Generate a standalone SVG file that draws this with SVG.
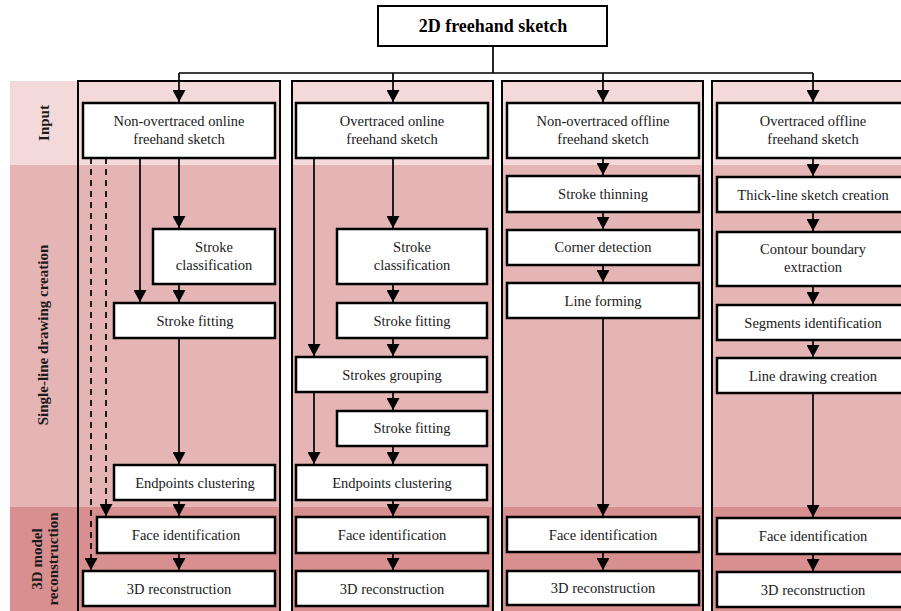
<svg xmlns="http://www.w3.org/2000/svg" width="901" height="611" viewBox="0 0 901 611">
<defs>
<linearGradient id="bands" x1="0" y1="81" x2="0" y2="611" gradientUnits="userSpaceOnUse">
<stop offset="0" stop-color="#f3d9da"/>
<stop offset="0.1585" stop-color="#f3d9da"/>
<stop offset="0.1585" stop-color="#e5b4b5"/>
<stop offset="0.8038" stop-color="#e5b4b5"/>
<stop offset="0.8038" stop-color="#d88f90"/>
<stop offset="1" stop-color="#d88f90"/>
</linearGradient>
<marker id="ah" markerUnits="userSpaceOnUse" markerWidth="13" markerHeight="13" refX="12" refY="6.5" orient="auto" viewBox="0 0 12 13">
<path d="M0,0 L12,6.5 L0,13 z" fill="#000"/>
</marker>
<style>
.col{fill:url(#bands);stroke:#000;stroke-width:2}
.lab{fill:url(#bands)}
.box{fill:#fff;stroke:#000;stroke-width:2.5}
.t{font-family:"Liberation Serif","Times New Roman",serif;font-size:14.5px;fill:#1a1a1a;text-anchor:middle}
.lt{font-family:"Liberation Serif","Times New Roman",serif;font-size:15px;font-weight:bold;fill:#1a1a1a;text-anchor:middle}
.title{font-family:"Liberation Serif","Times New Roman",serif;font-size:18px;font-weight:bold;fill:#000;text-anchor:middle}
.c{fill:none;stroke:#000;stroke-width:1.7}
.a{marker-end:url(#ah)}
.d{stroke-dasharray:6 5}
</style>
</defs>
<rect width="901" height="611" fill="#fff"/>
<g id="lanes">
<rect class="lab" x="10" y="81" width="68" height="530"/>
<rect class="col" x="78" y="81" width="202" height="535"/>
<rect class="col" x="292" y="81" width="201" height="535"/>
<rect class="col" x="502" y="81" width="201" height="535"/>
<rect class="col" x="712" y="81" width="202" height="535"/>
<text class="lt" transform="translate(44,123) rotate(-90)" y="5">Input</text>
<text class="lt" transform="translate(43,335) rotate(-90)" y="5">Single-line drawing creation</text>
<text class="lt" transform="translate(37,559) rotate(-90)" y="5">3D model</text>
<text class="lt" transform="translate(53,559) rotate(-90)" y="5">reconstruction</text>
</g>
<g id="connectors">
<path class="c" d="M493,46 V73 M179,73 H813"/>
<path class="c a" d="M179,73 V102"/>
<path class="c a" d="M393,73 V102"/>
<path class="c a" d="M603,73 V102"/>
<path class="c a" d="M813,73 V102"/>
<path class="c a" d="M179,158 V228"/>
<path class="c a" d="M179,284 V302"/>
<path class="c a" d="M179,338 V464"/>
<path class="c a" d="M179,500 V516"/>
<path class="c a" d="M179,553 V570"/>
<path class="c a" d="M140,158 V302"/>
<path class="c a d" d="M106,158 V516"/>
<path class="c a d" d="M91,158 V570"/>
<path class="c a" d="M393,158 V228"/>
<path class="c a" d="M393,284 V302"/>
<path class="c a" d="M393,338 V356"/>
<path class="c a" d="M393,392 V410"/>
<path class="c a" d="M393,446 V464"/>
<path class="c a" d="M393,500 V516"/>
<path class="c a" d="M393,553 V570"/>
<path class="c a" d="M314,158 V356"/>
<path class="c a" d="M314,392 V464"/>
<path class="c a" d="M603,158 V175"/>
<path class="c a" d="M603,212 V229"/>
<path class="c a" d="M603,265 V282"/>
<path class="c a" d="M603,318 V516"/>
<path class="c a" d="M603,552 V570"/>
<path class="c a" d="M813,158 V176"/>
<path class="c a" d="M813,212 V231"/>
<path class="c a" d="M813,286 V304"/>
<path class="c a" d="M813,340 V357"/>
<path class="c a" d="M813,393 V517"/>
<path class="c a" d="M813,554 V571"/>
</g>
<g id="sketch2d"><rect x="378" y="6" width="229" height="40" fill="#fff" stroke="#000" stroke-width="2"/><text class="title" x="493" y="32">2D freehand sketch</text></g>
<g id="in1"><rect class="box" x="83" y="103" width="192" height="55"/><text class="t" x="179" y="126">Non-overtraced online</text><text class="t" x="179" y="144">freehand sketch</text></g>
<g id="sc1"><rect class="box" x="153" y="229" width="122" height="55"/><text class="t" x="214" y="252">Stroke</text><text class="t" x="214" y="270">classification</text></g>
<g id="sf1"><rect class="box" x="114" y="303" width="161" height="35"/><text class="t" x="195" y="326">Stroke fitting</text></g>
<g id="ec1"><rect class="box" x="114" y="465" width="161" height="35"/><text class="t" x="195" y="488">Endpoints clustering</text></g>
<g id="fi1"><rect class="box" x="97" y="517" width="178" height="36"/><text class="t" x="186" y="540">Face identification</text></g>
<g id="re1"><rect class="box" x="83" y="571" width="192" height="35"/><text class="t" x="179" y="594">3D reconstruction</text></g>
<g id="in2"><rect class="box" x="296" y="103" width="192" height="55"/><text class="t" x="392" y="126">Overtraced online</text><text class="t" x="392" y="144">freehand sketch</text></g>
<g id="sc2"><rect class="box" x="337" y="229" width="150" height="55"/><text class="t" x="412" y="252">Stroke</text><text class="t" x="412" y="270">classification</text></g>
<g id="sf2a"><rect class="box" x="337" y="303" width="150" height="35"/><text class="t" x="412" y="326">Stroke fitting</text></g>
<g id="sg2"><rect class="box" x="296" y="357" width="191" height="35"/><text class="t" x="392" y="380">Strokes grouping</text></g>
<g id="sf2b"><rect class="box" x="337" y="411" width="150" height="35"/><text class="t" x="412" y="433">Stroke fitting</text></g>
<g id="ec2"><rect class="box" x="296" y="465" width="191" height="35"/><text class="t" x="392" y="488">Endpoints clustering</text></g>
<g id="fi2"><rect class="box" x="296" y="517" width="192" height="36"/><text class="t" x="392" y="540">Face identification</text></g>
<g id="re2"><rect class="box" x="296" y="571" width="192" height="35"/><text class="t" x="392" y="594">3D reconstruction</text></g>
<g id="in3"><rect class="box" x="507" y="103" width="192" height="55"/><text class="t" x="603" y="126">Non-overtraced offline</text><text class="t" x="603" y="144">freehand sketch</text></g>
<g id="st3"><rect class="box" x="507" y="176" width="192" height="36"/><text class="t" x="603" y="199">Stroke thinning</text></g>
<g id="cd3"><rect class="box" x="507" y="230" width="192" height="35"/><text class="t" x="603" y="252">Corner detection</text></g>
<g id="lf3"><rect class="box" x="507" y="283" width="192" height="35"/><text class="t" x="603" y="306">Line forming</text></g>
<g id="fi3"><rect class="box" x="507" y="517" width="192" height="35"/><text class="t" x="603" y="540">Face identification</text></g>
<g id="re3"><rect class="box" x="507" y="571" width="192" height="34"/><text class="t" x="603" y="593">3D reconstruction</text></g>
<g id="in4"><rect class="box" x="717" y="103" width="192" height="55"/><text class="t" x="813" y="126">Overtraced offline</text><text class="t" x="813" y="144">freehand sketch</text></g>
<g id="tl4"><rect class="box" x="717" y="177" width="192" height="35"/><text class="t" x="813" y="200">Thick-line sketch creation</text></g>
<g id="cb4"><rect class="box" x="717" y="232" width="192" height="54"/><text class="t" x="813" y="254">Contour boundary</text><text class="t" x="813" y="272">extraction</text></g>
<g id="si4"><rect class="box" x="717" y="305" width="192" height="35"/><text class="t" x="813" y="328">Segments identification</text></g>
<g id="ld4"><rect class="box" x="717" y="358" width="192" height="35"/><text class="t" x="813" y="381">Line drawing creation</text></g>
<g id="fi4"><rect class="box" x="717" y="518" width="192" height="36"/><text class="t" x="813" y="541">Face identification</text></g>
<g id="re4"><rect class="box" x="717" y="572" width="192" height="35"/><text class="t" x="813" y="595">3D reconstruction</text></g>
</svg>
